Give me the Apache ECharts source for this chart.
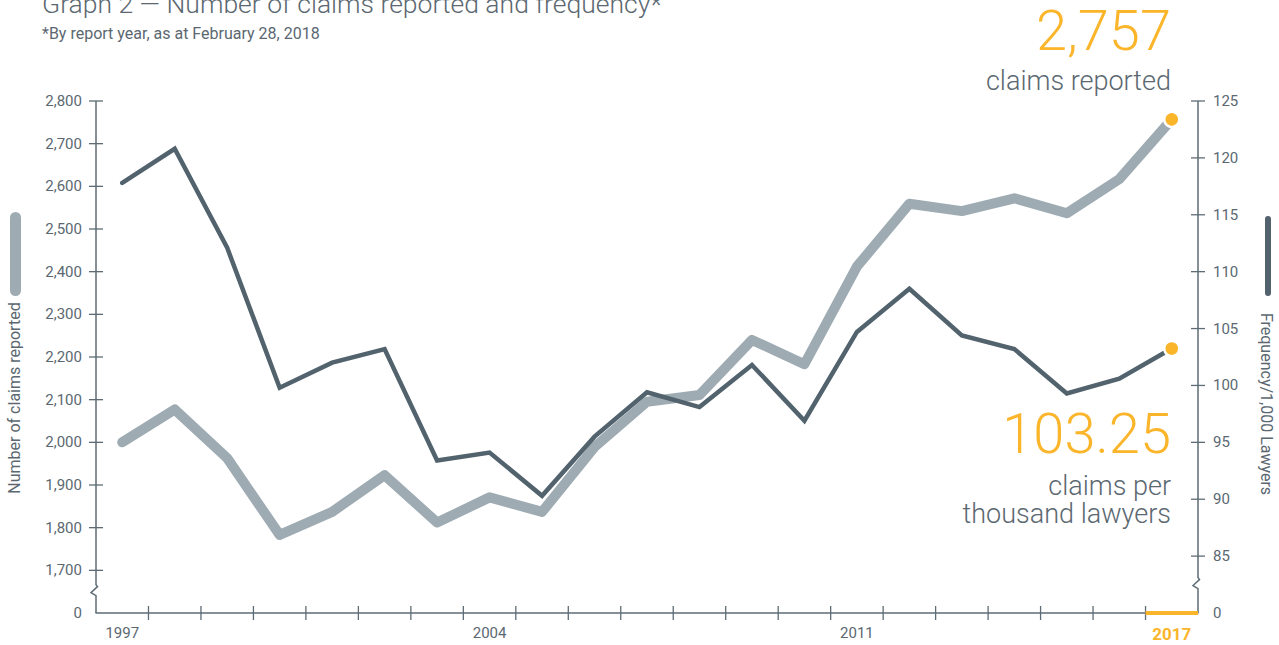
<!DOCTYPE html>
<html><head><meta charset="utf-8">
<script src="https://cdn.jsdelivr.net/npm/echarts@6/dist/echarts.min.js"></script>
<style>html,body{margin:0;padding:0;background:#fff}#c{width:1279px;height:645px}</style>
</head><body><div id="c"></div>
<script>
// ---- data ----
const years = [1997,1998,1999,2000,2001,2002,2003,2004,2005,2006,2007,2008,2009,2010,2011,2012,2013,2014,2015,2016,2017];
const claims = [2000,2077,1963,1783,1837,1923,1812,1871,1837,1989,2095,2111,2240,2183,2412,2559,2542,2572,2537,2617,2757];
const frequency = [117.8,120.8,112.1,99.8,102.0,103.2,93.4,94.1,90.3,95.5,99.4,98.1,101.8,96.9,104.7,108.5,104.4,103.2,99.3,100.6,103.25];
const xLabelYears = [1997,2004,2011,2017];
const leftTickValues = [1700,1800,1900,2000,2100,2200,2300,2400,2500,2600,2700,2800];
const rightTickValues = [85,90,95,100,105,110,115,120,125];
const leftBreakValue = 1600;   // shown as "0"
const rightBreakValue = 80;    // shown as "0"

// ---- style ----
const C_CLAIMS = '#9eabb3', C_FREQ = '#52636e', C_AXIS = '#5e6c75', C_TEXT = '#5b6871', C_ORANGE = '#fbb52b';
const FONT = 'Roboto';
const last = years.length - 1;
const xLabelIdx = xLabelYears.map(y => years.indexOf(y));
const xTickVals = years.slice(1).map((y, i) => i + 0.5);
const fmtThousands = v => String(v).replace(/\B(?=(\d{3})+(?!\d))/g, ',');

const chart = echarts.init(document.getElementById('c'), null, {renderer: 'svg'});
const labelBase = {color: C_TEXT, fontSize: 15, fontFamily: FONT};

const option = {
  animation: false,
  backgroundColor: '#fff',
  title: [
    {text: 'Graph 2 \u2014 Number of claims reported and frequency*', left: 37, top: -15,
     textStyle: {color: C_TEXT, fontSize: 26.5, fontWeight: 300, fontFamily: FONT}},
    {text: '*By report year, as at February 28, 2018', left: 37, top: 20,
     textStyle: {color: C_TEXT, fontSize: 16, fontWeight: 'normal', fontFamily: FONT}}
  ],
  grid: {left: 96, right: 81, top: 101, bottom: 32},
  xAxis: {type: 'value', min: -0.5, max: last + 0.5,
     axisLine: {show: true, lineStyle: {color: C_AXIS, width: 1.5}},
     axisTick: {show: false},
     axisLabel: Object.assign({}, labelBase, {
       customValues: xLabelIdx, margin: 12,
       formatter: v => v === last ? '{hl|' + years[v] + '}' : String(years[v]),
       rich: {hl: {color: C_ORANGE, fontWeight: 'bold', fontSize: 17, fontFamily: FONT}}
     }),
     splitLine: {show: false}},
  yAxis: [
    {type: 'value', position: 'left', min: leftBreakValue, max: 2800, interval: 100,
     axisLine: {show: false}, axisTick: {show: false},
     axisLabel: Object.assign({}, labelBase, {
       customValues: [leftBreakValue].concat(leftTickValues), margin: 14,
       formatter: v => v === leftBreakValue ? '0' : fmtThousands(v)}),
     splitLine: {show: false}},
    {type: 'value', position: 'right', min: rightBreakValue, max: 125, interval: 5,
     axisLine: {show: false}, axisTick: {show: false},
     axisLabel: Object.assign({}, labelBase, {
       customValues: [rightBreakValue].concat(rightTickValues), margin: 15,
       formatter: v => v === rightBreakValue ? '0' : String(v)}),
     splitLine: {show: false}}
  ],
  series: [
    {name: 'Number of claims reported', type: 'line', yAxisIndex: 0, z: 2,
     data: claims.map((v, i) => [i, v]),
     lineStyle: {color: C_CLAIMS, width: 10, cap: 'round', join: 'round'},
     symbol: 'circle', showSymbol: true,
     symbolSize: (v, p) => p.dataIndex === last ? 15 : 0,
     itemStyle: {color: C_ORANGE, borderColor: '#fff', borderWidth: 2.5},
     emphasis: {disabled: true}, silent: true},
    {name: 'Frequency/1,000 Lawyers', type: 'line', yAxisIndex: 1, z: 3,
     data: frequency.map((v, i) => [i, v]),
     lineStyle: {color: C_FREQ, width: 4.5, cap: 'round', join: 'miter'},
     symbol: 'circle', showSymbol: true,
     symbolSize: (v, p) => p.dataIndex === last ? 15 : 0,
     itemStyle: {color: C_ORANGE, borderColor: '#fff', borderWidth: 2.5},
     emphasis: {disabled: true}, silent: true}
  ]
};
chart.setOption(option);

// ---- axis lines with breaks, crossing ticks, highlight segment, annotations ----
const xL = chart.convertToPixel({xAxisIndex: 0}, -0.5);
const xR = chart.convertToPixel({xAxisIndex: 0}, last + 0.5);
const xLastStart = chart.convertToPixel({xAxisIndex: 0}, last - 0.5);
const yTopL = chart.convertToPixel({yAxisIndex: 0}, 2800);
const yBotL = chart.convertToPixel({yAxisIndex: 0}, leftBreakValue);
const yBrkL = chart.convertToPixel({yAxisIndex: 0}, leftBreakValue + 50);
const yTopR = chart.convertToPixel({yAxisIndex: 1}, 125);
const yBotR = chart.convertToPixel({yAxisIndex: 1}, rightBreakValue);
const yBrkR = chart.convertToPixel({yAxisIndex: 1}, rightBreakValue + 2.5);

function brokenAxis(x, yTop, yBrk, yBot) {
  return [[x, yTop], [x, yBrk - 7], [x + 1.5, yBrk - 5], [x - 5, yBrk + 1], [x, yBrk + 4], [x, yBot]];
}
const axisStroke = {stroke: C_AXIS, lineWidth: 1.5, fill: null};
const tickStroke = {stroke: C_AXIS, lineWidth: 1.3};
const T = 7;

const graphics = [
  {type: 'polyline', shape: {points: brokenAxis(xL, yTopL, yBrkL, yBotL)}, style: axisStroke, z: 10, silent: true},
  {type: 'polyline', shape: {points: brokenAxis(xR, yTopR, yBrkR, yBotR)}, style: axisStroke, z: 10, silent: true}
];
leftTickValues.forEach(v => {
  const y = chart.convertToPixel({yAxisIndex: 0}, v);
  graphics.push({type: 'line', shape: {x1: xL - T, y1: y, x2: xL + T, y2: y}, style: tickStroke, z: 10, silent: true});
});
rightTickValues.forEach(v => {
  const y = chart.convertToPixel({yAxisIndex: 1}, v);
  graphics.push({type: 'line', shape: {x1: xR - T, y1: y, x2: xR + T, y2: y}, style: tickStroke, z: 10, silent: true});
});
xTickVals.forEach(v => {
  const x = chart.convertToPixel({xAxisIndex: 0}, v);
  graphics.push({type: 'line', shape: {x1: x, y1: yBotL - T, x2: x, y2: yBotL + T}, style: tickStroke, z: 10, silent: true});
});

const fmtLastClaims = fmtThousands(claims[last]);
const fmtLastFreq = String(frequency[last]);

graphics.push(
  {type: 'line', shape: {x1: xLastStart, y1: yBotL, x2: xR, y2: yBotL}, style: {stroke: C_ORANGE, lineWidth: 4}, z: 11, silent: true},
  // axis "legend" bars and names
  {type: 'rect', shape: {x: 10, y: 212, width: 11, height: 84, r: 5.5}, style: {fill: C_CLAIMS}, silent: true},
  {type: 'text', x: 14, y: 398, rotation: Math.PI / 2,
   style: {text: 'Number of claims reported', fill: C_TEXT, font: '16px Roboto', align: 'center', verticalAlign: 'middle'}, silent: true},
  {type: 'rect', shape: {x: 1265, y: 216, width: 6, height: 80, r: 3}, style: {fill: C_FREQ}, silent: true},
  {type: 'text', x: 1266, y: 404, rotation: -Math.PI / 2,
   style: {text: 'Frequency/1,000 Lawyers', fill: C_TEXT, font: '16px Roboto', align: 'center', verticalAlign: 'middle'}, silent: true},
  // callouts
  {type: 'text', x: 1171, y: 31,
   style: {text: fmtLastClaims, fill: C_ORANGE, font: '300 56px Roboto', align: 'right', verticalAlign: 'middle'}, silent: true},
  {type: 'text', x: 1171, y: 81,
   style: {text: 'claims reported', fill: C_TEXT, font: '300 27px Roboto', align: 'right', verticalAlign: 'middle'}, silent: true},
  {type: 'text', x: 1171, y: 434,
   style: {text: fmtLastFreq, fill: C_ORANGE, font: '300 56px Roboto', align: 'right', verticalAlign: 'middle'}, silent: true},
  {type: 'text', x: 1171, y: 500,
   style: {text: 'claims per\nthousand lawyers', fill: C_TEXT, font: '300 27px Roboto', lineHeight: 28, align: 'right', verticalAlign: 'middle'}, silent: true}
);

chart.setOption({graphic: graphics});
</script>
</body></html>
